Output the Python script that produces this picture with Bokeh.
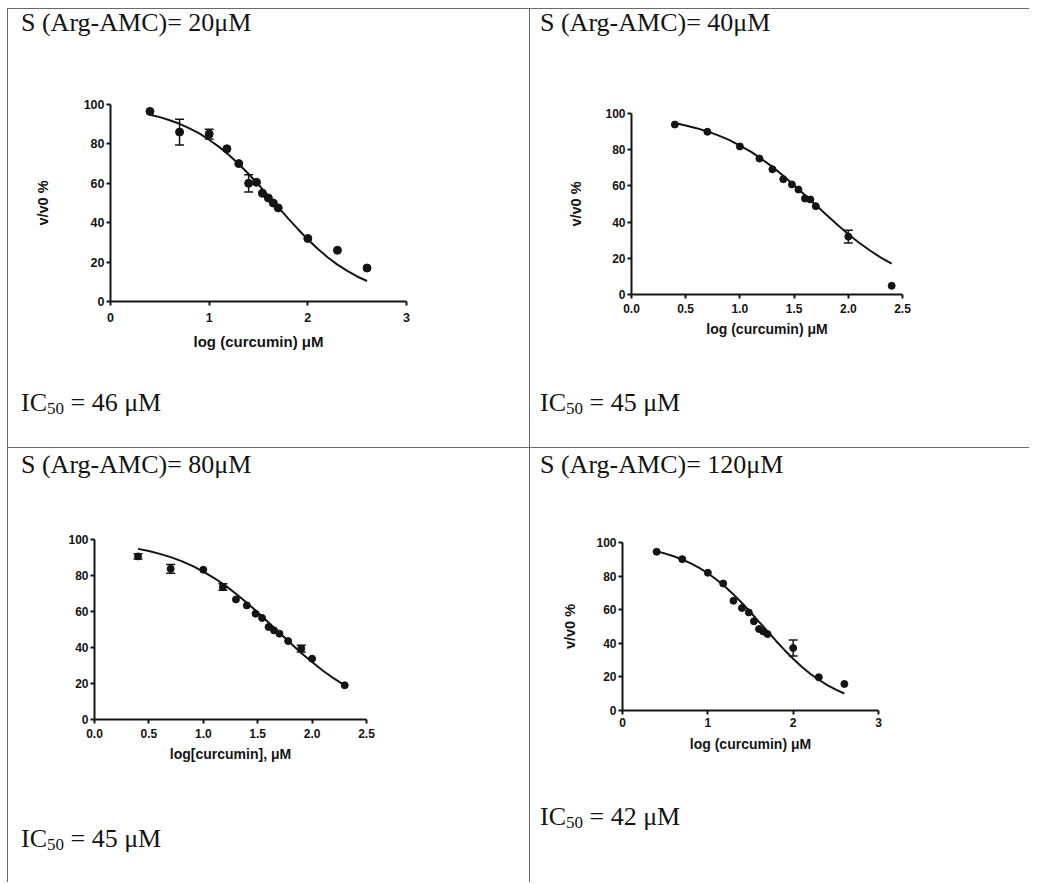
from bokeh.plotting import figure
from bokeh.models import (Div, FixedTicker, Whisker, TeeHead, ColumnDataSource,
                          PrintfTickFormatter, Range1d)
from bokeh.layouts import column, row
from bokeh.embed import file_html
from bokeh.resources import INLINE

# ---------------- data ----------------
headers = ["S (Arg-AMC)= 20μM", "S (Arg-AMC)= 40μM", "S (Arg-AMC)= 80μM", "S (Arg-AMC)= 120μM"]
ic50_values = ["46", "45", "45", "42"]
x_labels = ["log (curcumin) μM", "log (curcumin) μM", "log[curcumin], μM", "log (curcumin) μM"]
y_labels = ["v/v0 %", "v/v0 %", None, "v/v0 %"]

# panel 1 : S = 20 µM
x1 = [0.40, 0.70, 1.00, 1.18, 1.30, 1.40, 1.48, 1.54, 1.60, 1.65, 1.70, 2.00, 2.30, 2.60]
y1 = [96.5, 86.0, 85.0, 77.5, 70.0, 60.0, 60.5, 55.0, 52.5, 50.0, 47.5, 32.0, 26.0, 17.0]
e1 = [0.0, 6.5, 2.5, 0.0, 0.0, 4.4, 0.0, 0.0, 0.0, 0.0, 0.0, 0.0, 0.0, 0.0]
cx1 = [0.4, 0.5, 0.6, 0.7, 0.8, 0.9, 1.0, 1.1, 1.2, 1.3, 1.4, 1.5, 1.6, 1.7, 1.8, 1.9, 2.0, 2.1, 2.2, 2.3, 2.4, 2.5, 2.6]
cy1 = [94.8, 93.6, 92.0, 90.2, 87.9, 85.3, 82.1, 78.5, 74.4, 69.8, 64.7, 59.3, 53.6, 47.9, 42.2, 36.7, 31.5, 26.8, 22.5, 18.7, 15.5, 12.7, 10.4]

# panel 2 : S = 40 µM
x2 = [0.40, 0.70, 1.00, 1.18, 1.30, 1.40, 1.48, 1.54, 1.60, 1.65, 1.70, 2.00, 2.40]
y2 = [93.9, 89.9, 81.8, 75.1, 69.2, 63.7, 60.8, 58.0, 53.0, 52.5, 48.8, 32.0, 4.8]
e2 = [0.0, 0.0, 0.0, 0.0, 0.0, 0.0, 0.0, 0.0, 0.0, 0.0, 0.0, 3.5, 0.0]
cx2 = [0.4, 0.5, 0.6, 0.7, 0.8, 0.9, 1.0, 1.1, 1.2, 1.3, 1.4, 1.5, 1.6, 1.7, 1.8, 1.9, 2.0, 2.1, 2.2, 2.3, 2.4]
cy2 = [94.7, 93.4, 91.9, 90.1, 87.9, 85.4, 82.3, 78.9, 74.9, 70.5, 65.6, 60.4, 55.0, 49.4, 43.9, 38.5, 33.3, 28.6, 24.3, 20.4, 17.0]

# panel 3 : S = 80 µM
x3 = [0.40, 0.70, 1.00, 1.18, 1.30, 1.40, 1.48, 1.54, 1.60, 1.65, 1.70, 1.78, 1.90, 2.00, 2.30]
y3 = [90.6, 83.7, 83.2, 73.6, 66.7, 63.4, 58.8, 56.4, 51.4, 49.5, 47.7, 43.6, 39.4, 33.8, 19.0]
e3 = [1.5, 2.4, 0.0, 1.8, 0.0, 0.0, 0.0, 0.0, 0.0, 0.0, 0.0, 0.0, 1.9, 0.0, 0.0]
cx3 = [0.4, 0.5, 0.6, 0.7, 0.8, 0.9, 1.0, 1.1, 1.2, 1.3, 1.4, 1.5, 1.6, 1.7, 1.8, 1.9, 2.0, 2.1, 2.2, 2.3]
cy3 = [94.8, 93.6, 92.0, 90.2, 88.0, 85.3, 82.2, 78.6, 74.5, 69.9, 64.9, 59.5, 53.9, 48.2, 42.5, 37.0, 31.9, 27.1, 22.8, 19.0]

# panel 4 : S = 120 µM
x4 = [0.40, 0.70, 1.00, 1.18, 1.30, 1.40, 1.48, 1.54, 1.60, 1.65, 1.70, 2.00, 2.30, 2.60]
y4 = [94.5, 90.1, 82.0, 75.6, 65.3, 61.0, 58.4, 53.1, 48.5, 47.0, 45.5, 37.2, 19.8, 15.8]
e4 = [0.0, 0.0, 0.0, 0.0, 0.0, 0.0, 0.0, 0.0, 0.0, 0.0, 0.0, 4.7, 0.0, 0.0]
cx4 = [0.4, 0.5, 0.6, 0.7, 0.8, 0.9, 1.0, 1.1, 1.2, 1.3, 1.4, 1.5, 1.6, 1.7, 1.8, 1.9, 2.0, 2.1, 2.2, 2.3, 2.4, 2.5, 2.6]
cy4 = [94.7, 93.4, 91.8, 89.9, 87.6, 84.9, 81.7, 78.0, 73.8, 69.1, 64.0, 58.5, 52.8, 47.1, 41.4, 35.9, 30.8, 26.1, 21.9, 18.3, 15.1, 12.4, 10.1]

x_ticks_int = [0, 1, 2, 3]
x_ticks_half = [0.0, 0.5, 1.0, 1.5, 2.0, 2.5]
y_ticks = [0, 20, 40, 60, 80, 100]

INK = "#141414"
RULE = "#6a6a6a"


def make_panel(xd, yd, ed, cx, cy, xmax, xticks, xfmt, xlabel, ylabel,
               w, h, bl, br, bt, bb, tick_fs, xlab_fs, ylab_fs,
               xtick_so, xlab_so, ylab_so, msize):
    p = figure(width=w, height=h, x_range=Range1d(0, xmax), y_range=Range1d(0, 100),
               output_backend="svg", toolbar_location=None,
               min_border_left=bl, min_border_right=br,
               min_border_top=bt, min_border_bottom=bb,
               outline_line_color=None, background_fill_color="white",
               border_fill_color="white")
    p.grid.visible = False
    p.line(cx, cy, line_width=2, line_color=INK)
    ex = [a for a, e in zip(xd, ed) if e > 0]
    lo = [b - e for b, e in zip(yd, ed) if e > 0]
    hi = [b + e for b, e in zip(yd, ed) if e > 0]
    if ex:
        src = ColumnDataSource(dict(x=ex, lo=lo, hi=hi))
        p.add_layout(Whisker(source=src, base="x", upper="hi", lower="lo",
                             line_color=INK, line_width=1.5,
                             upper_head=TeeHead(size=9, line_color=INK, line_width=1.5),
                             lower_head=TeeHead(size=9, line_color=INK, line_width=1.5)))
    p.scatter(xd, yd, size=msize, fill_color=INK, line_color=INK)

    for ax in (p.xaxis[0], p.yaxis[0]):
        ax.axis_line_width = 2
        ax.axis_line_color = INK
        ax.major_tick_line_width = 2
        ax.major_tick_line_color = INK
        ax.major_tick_out = 4
        ax.major_tick_in = 0
        ax.minor_tick_line_color = None
        ax.major_label_text_font = "Liberation Sans"
        ax.major_label_text_font_style = "bold"
        ax.major_label_text_font_size = f"{tick_fs}px"
        ax.major_label_text_color = INK
        ax.axis_label_text_font = "Liberation Sans"
        ax.axis_label_text_font_style = "bold"
        ax.axis_label_text_color = INK
    p.xaxis.ticker = FixedTicker(ticks=xticks)
    if xfmt:
        p.xaxis.formatter = PrintfTickFormatter(format=xfmt)
    p.yaxis.ticker = FixedTicker(ticks=y_ticks)
    p.xaxis.axis_label = xlabel
    p.xaxis.axis_label_text_font_size = f"{xlab_fs}px"
    p.xaxis.major_label_standoff = xtick_so
    p.xaxis.axis_label_standoff = xlab_so
    p.yaxis.major_label_standoff = 2
    if ylabel:
        p.yaxis.axis_label = ylabel
        p.yaxis.axis_label_text_font_size = f"{ylab_fs}px"
        p.yaxis.axis_label_standoff = ylab_so
    return p


def serif_div(html, w, h, pad_left, pad_top):
    return Div(text=f'<div style="font-family:\'Liberation Serif\',serif;font-size:26px;'
                    f'line-height:26px;color:{INK};white-space:nowrap;'
                    f'padding-left:{pad_left}px;padding-top:{pad_top}px;">{html}</div>',
               width=w, height=h, margin=0)


def ic50_html(v):
    return (f'IC<span style="font-size:17px;position:relative;top:3px;">50</span>'
            f' = {v} μM')


def vline(h):
    return Div(text="", width=1, height=h, margin=0, styles={"background-color": RULE})


def hline(w):
    return Div(text="", width=w, height=1, margin=0, styles={"background-color": RULE})


W1, W2 = 521, 499
H1, H2 = 438, 434

p1 = make_panel(x1, y1, e1, cx1, cy1, 3, x_ticks_int, None, x_labels[0], y_labels[0],
                W1, 341, 102, 123, 55, 89, 12.5, 15, 14.5, 7, 8, 30, 8)
p2 = make_panel(x2, y2, e2, cx2, cy2, 2.5, x_ticks_half, "%.1f", x_labels[1], y_labels[1],
                W2, 341, 101, 127, 64, 96, 12, 14, 14.5, 5, 5, 18, 7)
p3 = make_panel(x3, y3, e3, cx3, cy3, 2.5, x_ticks_half, "%.1f", x_labels[2], y_labels[2],
                W1, 338, 86, 163, 51, 107, 12, 14, 14.5, 5, 5, 18, 7)
p4 = make_panel(x4, y4, e4, cx4, cy4, 3, x_ticks_int, None, x_labels[3], y_labels[3],
                W2, 316, 92, 151, 54, 94, 12, 14, 14.5, 3, 6, 15, 7)

cell1 = column(serif_div(headers[0], W1, 40, 13, 1), p1,
               serif_div(ic50_html(ic50_values[0]), W1, 57, 13, 0), spacing=0)
cell2 = column(serif_div(headers[1], W2, 40, 10, 1), p2,
               serif_div(ic50_html(ic50_values[1]), W2, 57, 10, 0), spacing=0)
cell3 = column(serif_div(headers[2], W1, 40, 13, 4), p3,
               serif_div(ic50_html(ic50_values[2]), W1, 56, 13, 0), spacing=0)
cell4 = column(serif_div(headers[3], W2, 40, 10, 4), p4,
               serif_div(ic50_html(ic50_values[3]), W2, 78, 10, 0), spacing=0)

root = column(hline(1022),
              row(vline(H1), cell1, vline(H1), cell2, spacing=0),
              hline(1022),
              row(vline(H2), cell3, vline(H2), cell4, spacing=0),
              spacing=0, margin=(8, 0, 0, 7))

open("out.html", "w").write(file_html(root, INLINE, title="curcumin IC50"))
